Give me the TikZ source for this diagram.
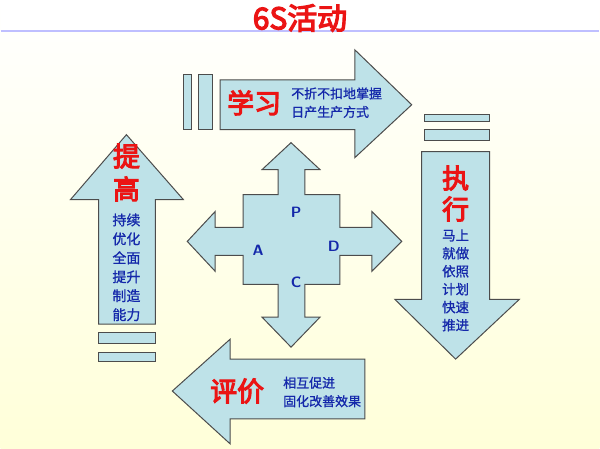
\documentclass[tikz,border=0pt]{standalone}
\usepackage{fontspec}
\newfontfamily\cjk[FakeBold=1]{Noto Sans CJK SC}
\newfontfamily\cjkb[FakeBold=4]{Noto Sans CJK SC}
\usetikzlibrary{positioning}
\definecolor{arrowblue}{RGB}{190,226,232}
\definecolor{textblue}{RGB}{20,40,170}
\definecolor{titlered}{RGB}{235,20,20}

\begin{document}
\begin{tikzpicture}[x=1pt, y=-1pt,
        arrowbox/.style={draw=black!70, line width=1pt, fill=arrowblue},
        big/.style={font=\cjkb\fontsize{27}{27}\selectfont, text=titlered, inner sep=0pt},
        note/.style={font=\cjk\fontsize{13}{18.5}\selectfont, text=textblue, inner sep=0pt, align=left},
        letter/.style={font=\sffamily\bfseries\fontsize{15}{15}\selectfont, text=textblue}
    ]
    % Background
    \shade[top color=white, bottom color=yellow!15] (0,0) rectangle (600,450);
    \fill[white] (0,0) rectangle (600,30);
    \draw[blue!25, line width=1.5pt] (0,31) -- (600,31);
    \node[font=\cjkb\fontsize{30}{30}\selectfont, text=titlered] (title) at (300,18) {6S活动};

    % Top arrow
    \draw[arrowbox] (183,75) rectangle (191,130);
    \draw[arrowbox] (198,75) rectangle (212,130);
    \draw[arrowbox] (220,80) -- (355,80) -- (355,50) -- (412,105) -- (355,158) -- (355,130) -- (220,130) -- cycle;
    \node[big] (learn) at (254,103) {学习};
    \node[note, anchor=west] (learntxt) at (291,103) {不折不扣地掌握\\日产生产方式};

    % Right arrow
    \draw[arrowbox] (425,115) rectangle (490,122);
    \draw[arrowbox] (425,130) rectangle (490,141);
    \draw[arrowbox] (422,152) -- (490,152) -- (490,300) -- (520,300) -- (456,360) -- (395,300) -- (422,300) -- cycle;
    \node[big, align=center, font=\cjkb\fontsize{27}{31}\selectfont] (exec) at (456,194) {执\\行};
    \node[note, align=center, font=\cjk\fontsize{13.5}{18}\selectfont] (exectxt) at (456,281) {马上\\就做\\依照\\计划\\快速\\推进};

    % Bottom arrow
    \draw[arrowbox] (365,360) -- (230,360) -- (230,340) -- (172,392) -- (230,445) -- (230,420) -- (365,420) -- cycle;
    \node[big] (eval) at (237,392) {评价};
    \node[note, anchor=west] (evaltxt) at (283,393) {相互促进\\固化改善效果};

    % Left arrow
    \draw[arrowbox] (98,333) rectangle (155,344);
    \draw[arrowbox] (98,353) rectangle (155,362);
    \draw[arrowbox] (98,325) -- (98,200) -- (70,200) -- (126,135) -- (183,200) -- (155,200) -- (155,325) -- cycle;
    \node[big, align=center, font=\cjkb\fontsize{27}{33}\selectfont] (raise) at (126,173) {提\\高};
    \node[note, align=center, font=\cjk\fontsize{14}{19}\selectfont] (raisetxt) at (126,268) {持续\\优化\\全面\\提升\\制造\\能力};

    % Centre cross
    \draw[arrowbox] (243,195) -- (278,195) -- (278,170) -- (262,170) -- (291,143) -- (320,170) -- (305,170) -- (305,195)
        -- (340,195) -- (340,228) -- (372,228) -- (372,212) -- (402,242) -- (372,272) -- (372,256) -- (340,256)
        -- (340,285) -- (305,285) -- (305,318) -- (320,318) -- (291,348) -- (262,318) -- (278,318) -- (278,285)
        -- (243,285) -- (243,256) -- (215,256) -- (215,272) -- (187,242) -- (215,212) -- (215,228) -- (243,228) -- cycle;
    \node[letter] (p) at (296,213) {P};
    \node[letter] (d) at (334,247) {D};
    \node[letter] (a) at (258,251) {A};
    \node[letter] (c) at (296,283) {C};
\end{tikzpicture}
\end{document}
